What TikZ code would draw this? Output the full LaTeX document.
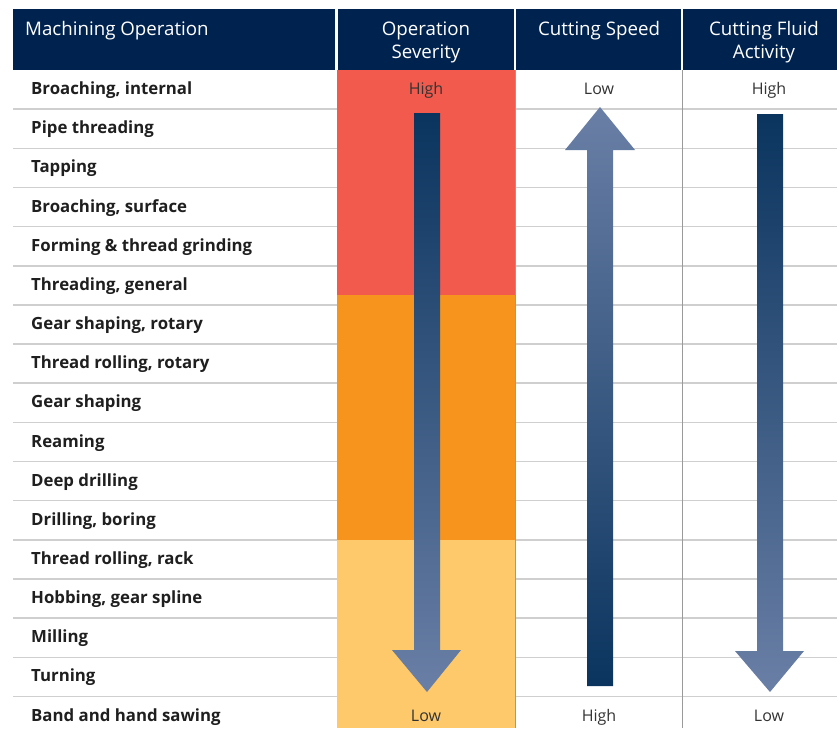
\documentclass[tikz,border=0pt]{standalone}
\usepackage{fontspec}
\setmainfont{Open Sans}
\definecolor{navy}{HTML}{00224F}
\definecolor{sevred}{HTML}{F15A4C}
\definecolor{sevorange}{HTML}{F7941E}
\definecolor{sevyellow}{HTML}{FDC96B}
\definecolor{arrowdark}{HTML}{0A345E}
\definecolor{arrowlight}{HTML}{6A7FA6}
\definecolor{rowrule}{HTML}{CFCFCF}
\definecolor{colrule}{HTML}{9A9A9A}
\definecolor{lvltext}{HTML}{333333}
\tikzset{
  headbox/.style={fill=navy},
  headtext/.style={text=white, font=\fontsize{18.7}{23}\selectfont, align=center, anchor=base, inner sep=0pt},
  optext/.style={text=black!88, font=\bfseries\fontsize{16.8}{19}\selectfont, anchor=base west, inner sep=0pt},
  lvl/.style={text=lvltext, font=\fontsize{16}{19}\selectfont, anchor=base, inner sep=0pt}
}
\begin{document}
\begin{tikzpicture}[x=1pt,y=-1pt]
\useasboundingbox (0,0) rectangle (837,728);

\fill[headbox] (13,9) rectangle (335,70);
\fill[headbox] (338,9) rectangle (514,70);
\fill[headbox] (516,9) rectangle (681,70);
\fill[headbox] (683,9) rectangle (837,70);
\draw (25,35) node[headtext, anchor=base west] (opname) {Machining Operation};
\draw (426,58) node[headtext] (sev) {Operation\\Severity};
\draw (599,35) node[headtext] (speed) {Cutting Speed};
\draw (764,58) node[headtext] (fluid) {Cutting Fluid\\Activity};

\foreach \y in {109.2,148.3,187.5,226.6,265.8,304.9,344.1,383.2,422.4,461.5,500.7,539.8,579.0,618.1,657.3,696.4}
  \draw[rowrule, line width=1.5pt] (13,\y) -- (837,\y);

\fill[sevred] (337,70) rectangle (515,295);
\fill[sevorange] (337,295) rectangle (515,539.8);
\fill[sevyellow] (337,539.8) rectangle (515,728);
\draw[colrule, line width=1pt] (515,70) -- (515,728);
\draw[colrule, line width=1pt] (682,70) -- (682,728);

\draw (31,94.6) node[optext] (r1) {Broaching, internal};
\draw (31,133.8) node[optext] (r2) {Pipe threading};
\draw (31,172.9) node[optext] (r3) {Tapping};
\draw (31,212.1) node[optext] (r4) {Broaching, surface};
\draw (31,251.2) node[optext] (r5) {Forming \& thread grinding};
\draw (31,290.4) node[optext] (r6) {Threading, general};
\draw (31,329.5) node[optext] (r7) {Gear shaping, rotary};
\draw (31,368.7) node[optext] (r8) {Thread rolling, rotary};
\draw (31,407.8) node[optext] (r9) {Gear shaping};
\draw (31,447.0) node[optext] (r10) {Reaming};
\draw (31,486.1) node[optext] (r11) {Deep drilling};
\draw (31,525.3) node[optext] (r12) {Drilling, boring};
\draw (31,564.4) node[optext] (r13) {Thread rolling, rack};
\draw (31,603.6) node[optext] (r14) {Hobbing, gear spline};
\draw (31,642.7) node[optext] (r15) {Milling};
\draw (31,681.9) node[optext] (r16) {Turning};
\draw (31,721.0) node[optext] (r17) {Band and hand sawing};

\draw (426,94.6) node[lvl] (sevhigh) {High};
\draw (426,721.0) node[lvl] (sevlow) {Low};
\draw (599,94.6) node[lvl] (speedlow) {Low};
\draw (599,721.0) node[lvl] (speedhigh) {High};
\draw (769,94.6) node[lvl] (fluidhigh) {High};
\draw (769,721.0) node[lvl] (fluidlow) {Low};

\shade[top color=arrowdark, bottom color=arrowlight]
  (414,113) -- (440,113) -- (440,650) -- (461,650) -- (427,692) -- (392,650) -- (414,650) -- cycle;
\shade[top color=arrowlight, bottom color=arrowdark]
  (600,107) -- (635,150) -- (613,150) -- (613,686) -- (587,686) -- (587,150) -- (565,150) -- cycle;
\shade[top color=arrowdark, bottom color=arrowlight]
  (757,114) -- (783,114) -- (783,651) -- (804,651) -- (770,692) -- (735,651) -- (757,651) -- cycle;
\end{tikzpicture}
\end{document}
